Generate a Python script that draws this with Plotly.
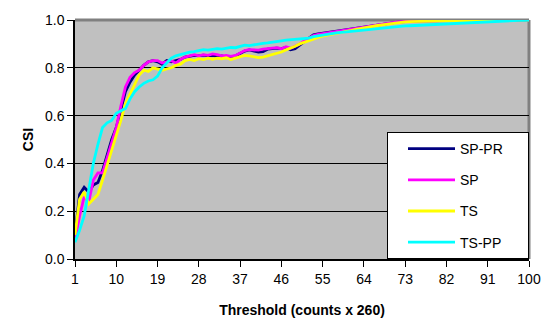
import plotly.graph_objects as go

# Threshold index (counts x 260)
threshold = list(range(1, 101))

sp_pr = [
    0.10, 0.27, 0.30, 0.28, 0.31, 0.32, 0.37, 0.44, 0.50, 0.55,
    0.62, 0.70, 0.74, 0.77, 0.79, 0.81, 0.825, 0.83, 0.825, 0.815,
    0.83, 0.825, 0.83, 0.835, 0.845, 0.85, 0.852, 0.85, 0.853, 0.85,
    0.852, 0.848, 0.85, 0.846, 0.845, 0.85, 0.86, 0.87, 0.875, 0.872,
    0.866, 0.868, 0.878, 0.88, 0.882, 0.88, 0.885, 0.875, 0.88, 0.895,
    0.91, 0.925, 0.938, 0.942, 0.945, 0.947, 0.95, 0.953, 0.955, 0.958,
    0.96, 0.965, 0.968, 0.972, 0.974, 0.977, 0.98, 0.983, 0.985, 0.988,
    0.99, 0.992, 0.994, 0.995, 0.995, 0.996, 0.996, 0.997, 0.997, 0.997,
    0.998, 0.998, 0.998, 0.998, 0.999, 0.999, 0.999, 0.999, 0.999, 0.999,
    1.0, 1.0, 1.0, 1.0, 1.0, 1.0, 1.0, 1.0, 1.0, 1.0,
]

sp = [
    0.08, 0.18, 0.26, 0.24, 0.33, 0.36, 0.36, 0.42, 0.48, 0.55,
    0.64, 0.72, 0.76, 0.78, 0.79, 0.81, 0.825, 0.83, 0.83, 0.82,
    0.825, 0.83, 0.82, 0.835, 0.845, 0.85, 0.855, 0.85, 0.855, 0.852,
    0.858, 0.855, 0.85, 0.852, 0.848, 0.852, 0.862, 0.872, 0.876, 0.876,
    0.874, 0.878, 0.88, 0.882, 0.884, 0.88, 0.888, 0.882, 0.89, 0.90,
    0.912, 0.925, 0.935, 0.94, 0.943, 0.946, 0.95, 0.952, 0.955, 0.958,
    0.962, 0.965, 0.97, 0.973, 0.975, 0.978, 0.98, 0.984, 0.986, 0.989,
    0.991, 0.993, 0.995, 0.995, 0.996, 0.996, 0.997, 0.997, 0.997, 0.998,
    0.998, 0.998, 0.998, 0.999, 0.999, 0.999, 0.999, 0.999, 0.999, 0.999,
    1.0, 1.0, 1.0, 1.0, 1.0, 1.0, 1.0, 1.0, 1.0, 1.0,
]

ts = [
    0.10, 0.25, 0.28, 0.23, 0.25, 0.27, 0.33, 0.39, 0.45, 0.52,
    0.58, 0.65, 0.69, 0.73, 0.77, 0.79, 0.785, 0.80, 0.795, 0.79,
    0.795, 0.80, 0.81, 0.815, 0.83, 0.835, 0.83, 0.838, 0.834, 0.84,
    0.836, 0.84, 0.838, 0.842, 0.835, 0.84, 0.848, 0.852, 0.85, 0.845,
    0.843, 0.845, 0.85, 0.856, 0.858, 0.866, 0.875, 0.882, 0.89, 0.90,
    0.907, 0.915, 0.922, 0.928, 0.933, 0.937, 0.94, 0.944, 0.948, 0.952,
    0.955, 0.96, 0.964, 0.968, 0.97, 0.973, 0.977, 0.98, 0.983, 0.985,
    0.987, 0.99, 0.992, 0.993, 0.994, 0.994, 0.995, 0.995, 0.996, 0.996,
    0.996, 0.997, 0.997, 0.997, 0.998, 0.998, 0.998, 0.998, 0.999, 0.999,
    0.999, 0.999, 0.999, 1.0, 1.0, 1.0, 1.0, 1.0, 1.0, 1.0,
]

ts_pp = [
    0.07, 0.12, 0.18, 0.29, 0.40, 0.48, 0.55, 0.57, 0.58, 0.61,
    0.62, 0.63, 0.67, 0.70, 0.72, 0.735, 0.745, 0.75, 0.765, 0.80,
    0.82, 0.84, 0.85, 0.855, 0.862, 0.866, 0.868, 0.873, 0.876, 0.874,
    0.878, 0.88, 0.878, 0.882, 0.885, 0.884, 0.89, 0.895, 0.893, 0.897,
    0.90, 0.902, 0.904, 0.906, 0.91, 0.913, 0.916, 0.918, 0.92, 0.921,
    0.922, 0.924, 0.93, 0.934, 0.937, 0.94, 0.943, 0.946, 0.948, 0.951,
    0.953, 0.956, 0.958, 0.96, 0.962, 0.964, 0.966, 0.968, 0.97, 0.971,
    0.972, 0.974, 0.975, 0.976, 0.977, 0.978, 0.979, 0.98, 0.981, 0.983,
    0.984, 0.986, 0.987, 0.988, 0.989, 0.99, 0.991, 0.992, 0.993, 0.994,
    0.995, 0.995, 0.996, 0.997, 0.997, 0.998, 0.998, 0.999, 0.999, 1.0,
]

x_ticks = [1, 10, 19, 28, 37, 46, 55, 64, 73, 82, 91, 100]
y_ticks = [0.0, 0.2, 0.4, 0.6, 0.8, 1.0]

series = [
    ("SP-PR", sp_pr, "#000080"),
    ("SP", sp, "#FF00FF"),
    ("TS", ts, "#FFFF00"),
    ("TS-PP", ts_pp, "#00FFFF"),
]

# non-breaking spaces pad the legend box out to the right
pad = "\u00a0" * 5

fig = go.Figure()
for i, (name, vals, color) in enumerate(series):
    fig.add_trace(go.Scatter(
        x=threshold, y=vals, name=name + pad, mode="lines",
        line=dict(color=color, width=2.8),
        legendgroup=f"g{i}",
    ))

font_family = "Liberation Sans, Arial, sans-serif"

fig.update_layout(
    width=553, height=328,
    margin=dict(l=75, r=22, t=17, b=67),
    paper_bgcolor="white",
    plot_bgcolor="#C0C0C0",
    font=dict(family=font_family, size=14, color="black"),
    showlegend=True,
    legend=dict(
        x=1.0, y=0.0, xanchor="right", yanchor="bottom",
        bgcolor="white", bordercolor="black", borderwidth=1,
        font=dict(size=14, family=font_family),
        traceorder="grouped", tracegroupgap=10,
        indentation=15, itemwidth=47,
    ),
    shapes=[
        dict(type="line", xref="paper", yref="paper", x0=0, x1=1, y0=1, y1=1,
             line=dict(color="#808080", width=3), layer="below"),
        dict(type="line", xref="paper", yref="paper", x0=1, x1=1, y0=0, y1=1,
             line=dict(color="#808080", width=3), layer="below"),
    ],
)

fig.update_xaxes(
    range=[1, 100], tickvals=x_ticks, ticktext=[str(v) for v in x_ticks],
    ticks="outside", ticklen=6, tickcolor="black", tickwidth=1,
    showline=True, linecolor="black", linewidth=1.5,
    showgrid=False, zeroline=False,
    title=dict(text="<b>Threshold (counts x 260)</b>", font=dict(size=14), standoff=20),
)
fig.update_yaxes(
    range=[0, 1], tickvals=y_ticks, tickformat=".1f",
    ticks="outside", ticklen=6, tickcolor="black", tickwidth=1,
    showline=True, linecolor="black", linewidth=1.5,
    showgrid=True, gridcolor="black", gridwidth=1, zeroline=False,
    title=dict(text="<b>CSI</b>", font=dict(size=14), standoff=8),
)

fig.write_html("out.html")
